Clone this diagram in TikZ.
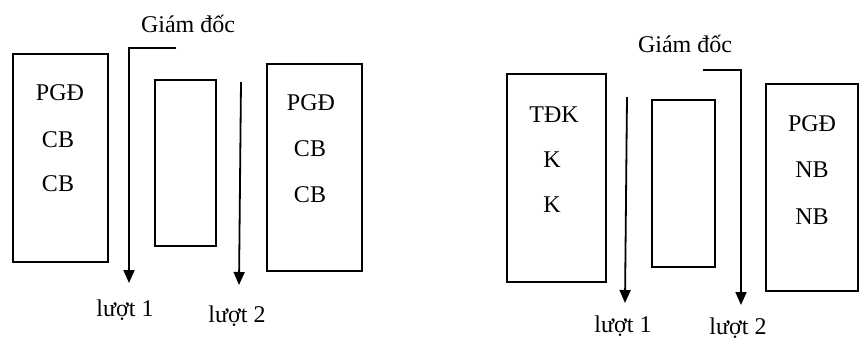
\documentclass[tikz,border=0pt]{standalone}
\usepackage{fontspec}
\setmainfont{Liberation Serif}
\usetikzlibrary{arrows.meta}
\begin{document}
\begin{tikzpicture}[x=1pt,y=-1pt,
  box/.style={draw,line width=1.8pt,inner sep=0pt},
  lbl/.style={font=\fontsize{24}{27}\selectfont,inner sep=0pt},
  arr/.style={line width=1.8pt,-{Triangle[width=11pt,length=13pt]}}]
\useasboundingbox (0,0) rectangle (860,341);
% left diagram
\draw[box] (13,54) rectangle (108,262) coordinate (lb1);
\draw[box] (155,80) rectangle (216,246) coordinate (lb2);
\draw[box] (267,64) rectangle (362,271) coordinate (lb3);
\node[lbl] (l1a) at (60,93) {PGĐ};
\node[lbl] (l1b) at (58,140) {CB};
\node[lbl] (l1c) at (58,184) {CB};
\node[lbl] (l3a) at (311,103) {PGĐ};
\node[lbl] (l3b) at (310,149) {CB};
\node[lbl] (l3c) at (310,195) {CB};
\node[lbl] (lgd) at (188,24) {Giám đốc};
\coordinate (lc1) at (176,48);
\coordinate (lt1) at (129,283);
\coordinate (ls2) at (241,82);
\coordinate (lt2) at (239,285);
\draw[arr] (lc1) -| (lt1);
\draw[arr] (ls2) -- (lt2);
\node[lbl] (ll1) at (125,310) {lượt 1};
\node[lbl] (ll2) at (237,316) {lượt 2};
% right diagram
\draw[box] (507,74) rectangle (606,282) coordinate (rb1);
\draw[box] (652,100) rectangle (715,267) coordinate (rb2);
\draw[box] (766,84) rectangle (858,291) coordinate (rb3);
\node[lbl] (r1a) at (554,115) {TĐK};
\node[lbl] (r1b) at (552,160) {K};
\node[lbl] (r1c) at (552,205) {K};
\node[lbl] (r3a) at (812,124) {PGĐ};
\node[lbl] (r3b) at (812,170) {NB};
\node[lbl] (r3c) at (812,217) {NB};
\node[lbl] (rgd) at (685,44) {Giám đốc};
\coordinate (rs1) at (627,97);
\coordinate (rt1) at (625,303);
\coordinate (rc2) at (703,70);
\coordinate (rt2) at (741,305);
\draw[arr] (rs1) -- (rt1);
\draw[arr] (rc2) -| (rt2);
\node[lbl] (rl1) at (623,326) {lượt 1};
\node[lbl] (rl2) at (738,328) {lượt 2};
\end{tikzpicture}
\end{document}
